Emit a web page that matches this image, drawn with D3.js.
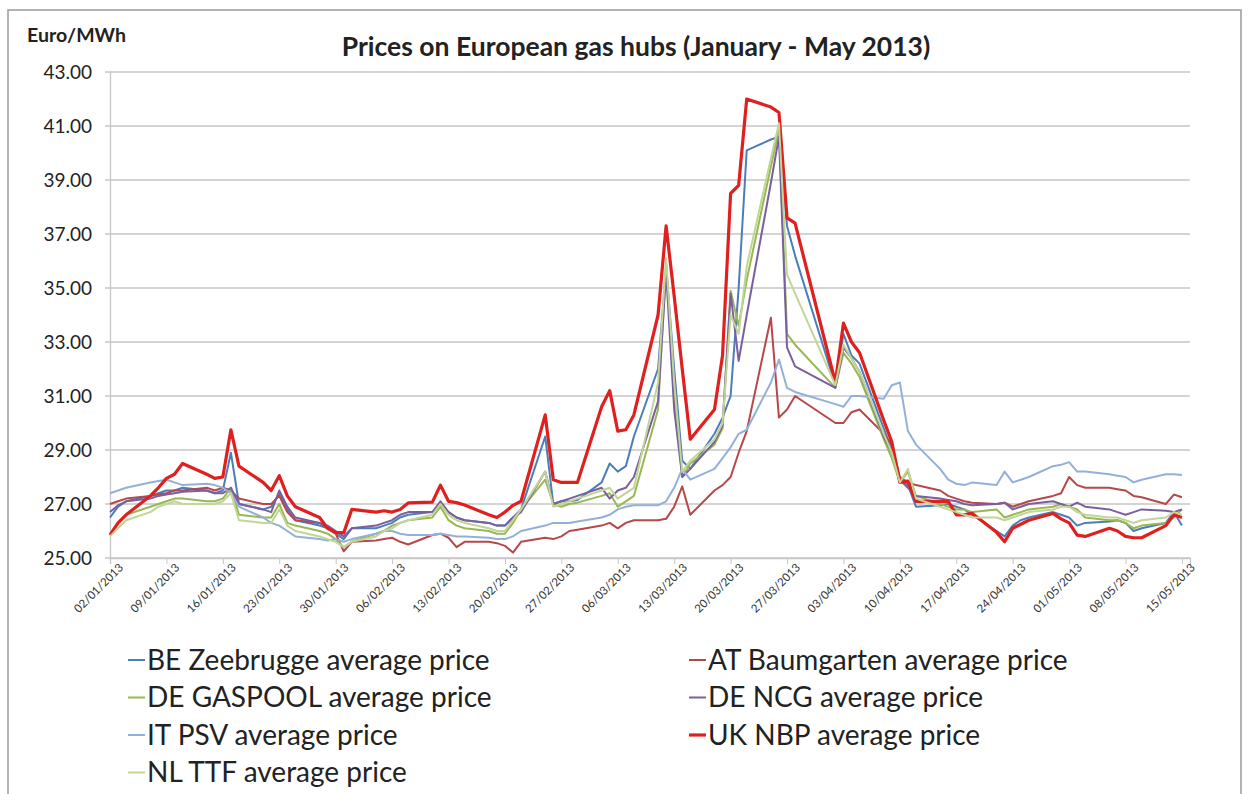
<!DOCTYPE html>
<html>
<head>
<meta charset="utf-8">
<script src="https://cdn.jsdelivr.net/npm/d3@7"></script>
<style>
body { margin: 0; background: #fff; }
text { font-family: Lato, "Open Sans", sans-serif; }
</style>
</head>
<body>
<svg width="1248" height="794"></svg>
<script>
// trading days (no weekends, no Easter 29/03 and 01/04)
var dates = [
  "2013-01-02","2013-01-03","2013-01-04",
  "2013-01-07","2013-01-08","2013-01-09","2013-01-10","2013-01-11",
  "2013-01-14","2013-01-15","2013-01-16","2013-01-17","2013-01-18",
  "2013-01-21","2013-01-22","2013-01-23","2013-01-24","2013-01-25",
  "2013-01-28","2013-01-29","2013-01-30","2013-01-31","2013-02-01",
  "2013-02-04","2013-02-05","2013-02-06","2013-02-07","2013-02-08",
  "2013-02-11","2013-02-12","2013-02-13","2013-02-14","2013-02-15",
  "2013-02-18","2013-02-19","2013-02-20","2013-02-21","2013-02-22",
  "2013-02-25","2013-02-26","2013-02-27","2013-02-28","2013-03-01",
  "2013-03-04","2013-03-05","2013-03-06","2013-03-07","2013-03-08",
  "2013-03-11","2013-03-12","2013-03-13","2013-03-14","2013-03-15",
  "2013-03-18","2013-03-19","2013-03-20","2013-03-21","2013-03-22",
  "2013-03-25","2013-03-26","2013-03-27","2013-03-28",
  "2013-04-02","2013-04-03","2013-04-04","2013-04-05",
  "2013-04-08","2013-04-09","2013-04-10","2013-04-11","2013-04-12",
  "2013-04-15","2013-04-16","2013-04-17","2013-04-18","2013-04-19",
  "2013-04-22","2013-04-23","2013-04-24","2013-04-25","2013-04-26",
  "2013-04-29","2013-04-30","2013-05-01","2013-05-02","2013-05-03",
  "2013-05-06","2013-05-07","2013-05-08","2013-05-09","2013-05-10",
  "2013-05-13","2013-05-14","2013-05-15"
];

var beZeebrugge = [
  26.5, 26.9, 27.1,
  27.3, 27.4, 27.5, 27.5, 27.6,
  27.5, 27.4, 27.5, 28.9, 27.0,
  26.8, 26.9, 27.4, 26.8, 26.4,
  26.2, 26.1, 25.9, 25.7, 26.1,
  26.1, 26.2, 26.3, 26.5, 26.6,
  26.7, 27.0, 26.7, 26.5, 26.4,
  26.3, 26.2, 26.2, 26.5, 26.8,
  29.5, 27.0, 27.1, 27.1, 27.15,
  27.8, 28.5, 28.2, 28.4, 29.5,
  32.0, 35.8, 32.0, 28.6, 28.3,
  29.6, 30.2, 31.0, 35.0, 40.1,
  40.5, 40.6, 37.3, 36.2,
  31.4, 33.3, 32.5, 32.2,
  29.8, 29.0, 27.9, 27.7, 26.9,
  26.95, 27.0, 26.9, 26.8, 26.6,
  26.0, 25.8, 26.2, 26.4, 26.5,
  26.7, 26.6, 26.5, 26.2, 26.3,
  26.35, 26.4, 26.3, 26.0, 26.1,
  26.3, 26.7, 26.2
];

var atBaumgarten = [
  27.0, 27.1, 27.2,
  27.3, 27.35, 27.4, 27.5, 27.5,
  27.6, 27.5, 27.6, 27.5, 27.2,
  27.0, 27.0, 27.3, 26.7, 26.4,
  26.3, 26.1, 25.9, 25.25, 25.6,
  25.65, 25.7, 25.75, 25.6, 25.5,
  25.85, 25.9, 25.75, 25.4, 25.6,
  25.6, 25.55, 25.45, 25.2, 25.6,
  25.75, 25.7, 25.8, 26.0, 26.05,
  26.2, 26.3, 26.1, 26.3, 26.4,
  26.4, 26.45, 26.9, 27.65, 26.6,
  27.5, 27.7, 28.0, 28.9, 29.7,
  33.9, 30.2, 30.5, 31.0,
  30.0, 30.0, 30.4, 30.5,
  29.6, 29.2, 28.0, 27.8, 27.7,
  27.5, 27.3, 27.2, 27.1, 27.05,
  27.0, 27.05, 26.9, 27.0, 27.1,
  27.3, 27.4, 28.0, 27.7, 27.6,
  27.6, 27.55, 27.5, 27.3, 27.25,
  27.0, 27.35, 27.25
];

var deGaspool = [
  25.9, 26.3, 26.6,
  26.9, 27.0, 27.1, 27.2, 27.2,
  27.1, 27.1, 27.2, 27.6, 26.6,
  26.5, 26.5, 27.0, 26.3, 26.2,
  26.0, 25.9, 25.7, 25.4, 25.6,
  25.9, 26.0, 26.2, 26.3, 26.4,
  26.5, 26.9, 26.4, 26.2, 26.1,
  26.0, 25.9, 25.9, 26.3, 26.8,
  27.9, 27.0, 26.9, 27.0, 27.05,
  27.3, 27.4, 26.9, 27.1, 27.3,
  30.5, 35.9, 31.0, 28.0, 28.5,
  29.2, 29.8, 34.9, 33.6, 35.3,
  39.5, 40.9, 33.3, 32.9,
  31.3, 32.6, 32.2, 31.7,
  29.4, 28.7, 27.8, 28.2, 27.3,
  27.0, 26.9, 26.8, 26.8, 26.7,
  26.8, 26.5, 26.6, 26.7, 26.8,
  26.9, 27.0, 26.9, 26.8, 26.5,
  26.4, 26.4, 26.3, 26.1, 26.2,
  26.3, 26.5, 26.8
];

var deNcg = [
  26.7, 26.95, 27.1,
  27.2, 27.3, 27.35, 27.4, 27.45,
  27.5, 27.4, 27.4, 27.6, 27.0,
  26.8, 26.7, 27.5, 26.9, 26.5,
  26.3, 26.2, 26.0, 25.8, 26.1,
  26.2, 26.3, 26.4, 26.6, 26.7,
  26.7, 27.1, 26.7, 26.5, 26.4,
  26.3, 26.2, 26.2, 26.5, 26.7,
  28.2, 27.0, 27.1, 27.2, 27.3,
  27.6, 27.2, 27.5, 27.6, 28.0,
  30.8, 35.6, 30.5, 28.0, 28.3,
  29.3, 29.9, 34.8, 32.3, 34.0,
  38.9, 40.6, 32.8, 32.1,
  31.3, 32.8, 32.4, 31.9,
  29.5, 28.9, 27.9, 27.6, 27.3,
  27.2, 27.15, 27.1, 27.0, 26.95,
  27.0, 27.05, 26.8, 26.9, 27.0,
  27.1, 27.0, 26.9, 27.05, 26.9,
  26.8, 26.7, 26.6, 26.7, 26.8,
  26.75, 26.7, 26.8
];

var itPsv = [
  27.4, 27.5, 27.6,
  27.8, 27.85, 27.9, 27.8, 27.7,
  27.75, 27.7, 27.6, 27.4, 26.9,
  26.5, 26.3, 26.2, 26.0, 25.8,
  25.7, 25.65, 25.7, 25.6, 25.7,
  25.9, 26.0, 26.0, 25.9, 25.85,
  25.85, 25.9, 25.85, 25.8, 25.8,
  25.75, 25.7, 25.7, 25.8, 26.0,
  26.2, 26.3, 26.3, 26.3, 26.35,
  26.5, 26.6, 26.8, 26.9, 26.95,
  26.95, 27.1, 27.6, 28.3, 27.9,
  28.3, 28.7, 29.1, 29.6, 29.75,
  31.5, 32.35, 31.3, 31.15,
  30.7, 30.6, 31.0, 31.0,
  30.9, 31.4, 31.5, 29.7, 29.2,
  28.3, 27.9, 27.75, 27.7, 27.8,
  27.7, 28.2, 27.8, 27.9, 28.0,
  28.4, 28.45, 28.55, 28.2, 28.2,
  28.1, 28.05, 28.0, 27.8, 27.9,
  28.1, 28.1, 28.07
];

var ukNbp = [
  25.85, 26.3, 26.6,
  27.3, 27.6, 27.95, 28.1, 28.5,
  28.1, 27.95, 28.0, 29.75, 28.4,
  27.8, 27.5, 28.05, 27.3, 26.9,
  26.5, 26.1, 25.95, 25.93, 26.8,
  26.7, 26.75, 26.7, 26.8, 27.04,
  27.07, 27.7, 27.1, 27.05, 26.96,
  26.6, 26.5, 26.7, 26.95, 27.1,
  30.3, 27.9, 27.8, 27.8, 27.8,
  30.6, 31.2, 29.7, 29.75, 30.3,
  34.0, 37.3, 34.7, 32.0, 29.4,
  30.5, 32.5, 38.5, 38.8, 42.0,
  41.7, 41.5, 37.6, 37.4,
  31.5, 33.7, 33.0, 32.6,
  30.1, 29.3, 27.8, 27.85, 27.1,
  27.1, 27.1, 26.6, 26.6, 26.65,
  25.95, 25.6, 26.1, 26.25, 26.4,
  26.65, 26.45, 26.3, 25.85, 25.8,
  26.1, 26.0, 25.8, 25.75, 25.75,
  26.2, 26.6, 26.5
];

var nlTtf = [
  25.8, 26.1, 26.4,
  26.7, 26.9, 27.0, 27.1, 27.0,
  27.0, 27.0, 27.1, 27.4, 26.4,
  26.3, 26.3, 26.8, 26.2, 26.0,
  25.8, 25.7, 25.6, 25.4, 25.6,
  25.8, 26.0, 26.1, 26.3, 26.4,
  26.6, 27.0, 26.6, 26.4, 26.3,
  26.1, 26.0, 26.0, 26.4, 26.8,
  28.2, 26.9, 27.0, 27.1, 27.2,
  27.5, 27.6, 27.2, 27.4, 27.6,
  31.5, 36.1, 31.5, 28.2, 28.6,
  29.4, 30.0, 34.0, 33.3, 35.8,
  39.8, 41.1, 35.5, 34.8,
  31.4, 32.9, 32.4, 31.9,
  29.6, 28.9, 27.8, 28.3, 27.2,
  26.9, 26.8, 26.7, 26.6, 26.5,
  26.5, 26.4, 26.5, 26.6, 26.7,
  26.8, 26.9, 26.9, 26.7, 26.6,
  26.5, 26.5, 26.4, 26.3, 26.4,
  26.5, 26.7, 26.6
];

var seriesNames = [
  "BE Zeebrugge average price", "AT Baumgarten average price",
  "DE GASPOOL average price", "DE NCG average price",
  "IT PSV average price", "UK NBP average price",
  "NL TTF average price"
];
var seriesValues = [beZeebrugge, atBaumgarten, deGaspool, deNcg, itPsv, ukNbp, nlTtf];
var seriesColors = ["#4a7ebb", "#b8474a", "#97b852", "#7a5fa0", "#93b0d9", "#e0201f", "#c2d596"];
var seriesWidths = [2, 2, 2, 2, 2, 3.2, 2];

var xTickLabels = ["02/01/2013","09/01/2013","16/01/2013","23/01/2013","30/01/2013",
  "06/02/2013","13/02/2013","20/02/2013","27/02/2013","06/03/2013","13/03/2013",
  "20/03/2013","27/03/2013","03/04/2013","10/04/2013","17/04/2013","24/04/2013",
  "01/05/2013","08/05/2013","15/05/2013"];
var yTicks = [25, 27, 29, 31, 33, 35, 37, 39, 41, 43];

var svg = d3.select('svg');
var parseIso = d3.timeParse('%Y-%m-%d');
var parseLabel = d3.timeParse('%d/%m/%Y');
var plotLeft = 110, plotRight = 1190, plotTop = 72, plotBottom = 558;

// frame round the picture
svg.append('rect')
  .attr('x', 8).attr('y', 10).attr('width', 1233).attr('height', 790)
  .attr('fill', 'none').attr('stroke', '#9a9a9a').attr('stroke-width', 1.5);

var xScale = d3.scaleTime()
  .domain([parseIso('2013-01-02'), parseIso('2013-05-16')])
  .range([plotLeft, plotRight]);
var yScale = d3.scaleLinear().domain([25, 43]).range([plotBottom, plotTop]);

// grid lines
svg.append('g').selectAll('line').data(yTicks).enter().append('line')
  .attr('x1', plotLeft - 5).attr('x2', plotRight)
  .attr('y1', function(d) { return yScale(d); })
  .attr('y2', function(d) { return yScale(d); })
  .attr('stroke', '#c6c6c6').attr('stroke-width', 1.3);

var yAxis = d3.axisLeft(yScale).tickValues(yTicks).tickSize(0).tickPadding(18)
  .tickFormat(d3.format('.2f'));
var yAxisGroup = svg.append('g')
  .attr('transform', 'translate(' + plotLeft + ',0)')
  .call(yAxis);
yAxisGroup.select('.domain').attr('stroke', '#c6c6c6').attr('stroke-width', 1.3);
yAxisGroup.selectAll('text').attr('font-size', 19).attr('fill', '#222')
  .style('font-family', 'Lato, sans-serif');

var xAxis = d3.axisBottom(xScale)
  .tickValues(xTickLabels.map(function(s) { return parseLabel(s); }))
  .tickSize(6)
  .tickFormat(d3.timeFormat('%d/%m/%Y'));
var xAxisGroup = svg.append('g')
  .attr('transform', 'translate(0,' + plotBottom + ')')
  .call(xAxis);
xAxisGroup.select('.domain').attr('stroke', '#c6c6c6').attr('stroke-width', 1.3);
xAxisGroup.selectAll('line').attr('stroke', '#c6c6c6');
xAxisGroup.selectAll('text')
  .attr('font-size', 11.5).attr('fill', '#333')
  .style('font-family', 'Lato, sans-serif')
  .attr('text-anchor', 'end')
  .attr('dy', 0)
  .attr('transform', 'translate(7,4) rotate(-45)');

// the lines
var line = d3.line()
  .x(function(d, i) { return xScale(parseIso(dates[i])); })
  .y(function(d) { return yScale(d); });

svg.append('g').selectAll('path').data(seriesValues).enter().append('path')
  .attr('d', function(d) { return line(d); })
  .attr('fill', 'none')
  .attr('stroke', function(d, i) { return seriesColors[i]; })
  .attr('stroke-width', function(d, i) { return seriesWidths[i]; })
  .attr('stroke-linejoin', 'round');

// titles
svg.append('text').attr('x', 27).attr('y', 42)
  .attr('font-size', 19.5).attr('font-weight', 'bold').attr('fill', '#222')
  .text('Euro/MWh');
svg.append('text').attr('x', 636).attr('y', 56).attr('text-anchor', 'middle')
  .attr('font-size', 26.5).attr('font-weight', 'bold').attr('fill', '#222')
  .text('Prices on European gas hubs (January - May 2013)');

// legend, two columns filled row by row
var legend = svg.append('g').selectAll('g').data(seriesNames).enter().append('g')
  .attr('transform', function(d, i) {
    var col = i % 2, row = Math.floor(i / 2);
    return 'translate(' + (col === 0 ? 128 : 689) + ',' + (660 + row * 37.5) + ')';
  });
legend.append('line')
  .attr('x1', 0).attr('x2', 17).attr('y1', 0).attr('y2', 0)
  .attr('stroke', function(d, i) { return seriesColors[i]; })
  .attr('stroke-width', function(d, i) { return seriesWidths[i]; });
legend.append('text')
  .attr('x', 19).attr('y', 0).attr('dy', '0.35em')
  .attr('font-size', 28).attr('fill', '#222')
  .text(function(d) { return d; });
</script>
</body>
</html>
